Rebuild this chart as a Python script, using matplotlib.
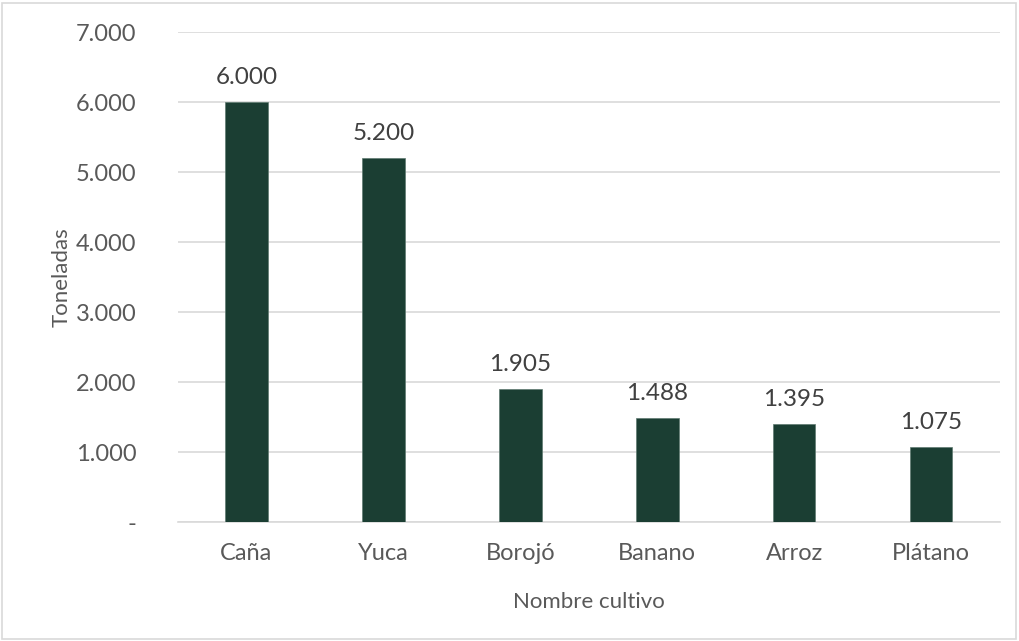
import matplotlib
matplotlib.use("Agg")
import matplotlib.pyplot as plt
from matplotlib.patches import Rectangle

cultivos = ["Caña", "Yuca", "Borojó", "Banano", "Arroz", "Plátano"]
toneladas = [6000, 5200, 1905, 1488, 1395, 1075]
yticks = [0, 1000, 2000, 3000, 4000, 5000, 6000, 7000]
ytick_labels = ["-", "1.000", "2.000", "3.000", "4.000", "5.000", "6.000", "7.000"]

plt.rcParams['font.family'] = ['Lato', 'DejaVu Sans']

fig = plt.figure(figsize=(10.19, 6.41), dpi=100)
ax = fig.add_axes([0.1747, 0.1856, 0.981 - 0.1747, 0.950 - 0.1856])

x = range(len(cultivos))
bars = ax.bar(x, toneladas, width=0.31, color="#1b3e33", edgecolor="#5f7a70", linewidth=0.5, zorder=3)

for xi, v in zip(x, toneladas):
    ax.annotate(f"{v:,}".replace(",", "."), (xi, v), xytext=(0, 10), textcoords="offset points",
                ha="center", va="bottom", fontsize=17.5, color="#404040")

ax.set_xlim(-0.5, len(cultivos) - 0.5)
ax.set_ylim(0, 7000)
ax.set_yticks(yticks)
ax.set_yticklabels(ytick_labels)
ax.set_xticks(list(x))
ax.set_xticklabels(cultivos)
ax.tick_params(axis="both", length=0, labelsize=17, labelcolor="#595959")
ax.tick_params(axis="y", pad=30)
ax.tick_params(axis="x", pad=15)
ax.grid(axis="y", color="#d9d9d9", linewidth=1.2, zorder=0)
for s in ["top", "right", "left"]:
    ax.spines[s].set_visible(False)
ax.spines["bottom"].set_color("#d9d9d9")
ax.spines["bottom"].set_linewidth(1.2)

ax.set_ylabel("Toneladas", fontsize=16, color="#595959", labelpad=3)
ax.set_xlabel("Nombre cultivo", fontsize=16, color="#595959", labelpad=20)

fig.patches.append(Rectangle((0.002, 0.003), 0.995, 0.993, transform=fig.transFigure,
                             fill=False, edgecolor="#d9d9d9", linewidth=1.2))

fig.savefig("out.png", dpi=100)
